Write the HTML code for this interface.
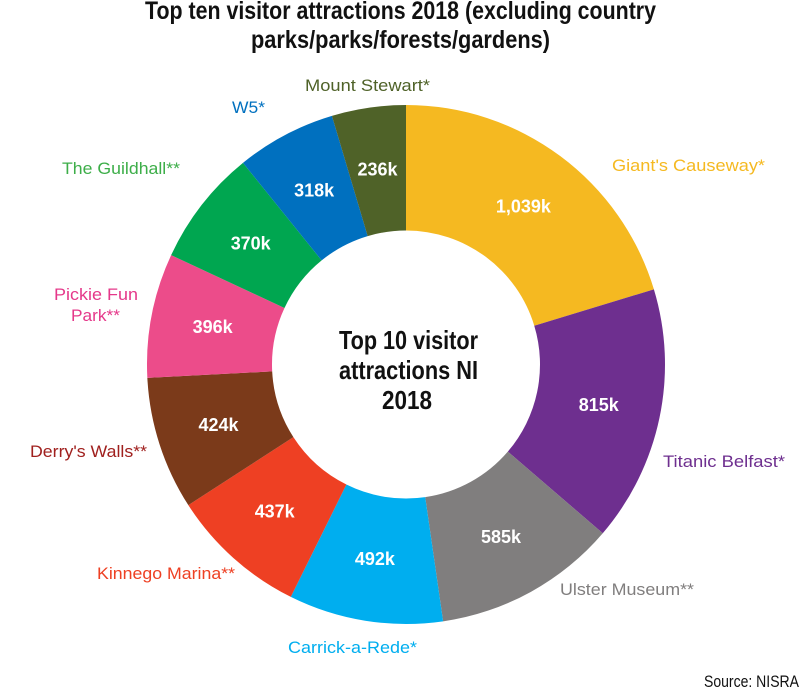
<!DOCTYPE html>
<html><head><meta charset="utf-8"><style>
html,body{margin:0;padding:0;background:#fff;}
body{width:800px;height:692px;overflow:hidden;}
svg text{font-family:"Liberation Sans",sans-serif;}
</style></head><body>
<svg id="s" width="800" height="692" viewBox="0 0 800 692" xmlns="http://www.w3.org/2000/svg">
<g font-weight="bold" fill="#111" font-size="25">
<text x="145" y="19" textLength="511" lengthAdjust="spacingAndGlyphs">Top ten visitor attractions 2018 (excluding country</text>
<text x="251" y="48" textLength="299" lengthAdjust="spacingAndGlyphs">parks/parks/forests/gardens)</text>
</g>
<g id="pie"></g>
<g font-size="26" font-weight="bold" fill="#111">
<text x="339" y="349" textLength="139" lengthAdjust="spacingAndGlyphs">Top 10 visitor</text>
<text x="339" y="379" textLength="139" lengthAdjust="spacingAndGlyphs">attractions NI</text>
<text x="382" y="409" textLength="50" lengthAdjust="spacingAndGlyphs">2018</text>
</g>
<g font-size="17">
<text x="305" y="91" textLength="125" lengthAdjust="spacingAndGlyphs" fill="#4F6228">Mount Stewart*</text>
<text x="232" y="113" textLength="33" lengthAdjust="spacingAndGlyphs" fill="#0070BF">W5*</text>
<text x="62" y="174" textLength="118" lengthAdjust="spacingAndGlyphs" fill="#3DAE49">The Guildhall**</text>
<text x="54" y="300" textLength="84" lengthAdjust="spacingAndGlyphs" fill="#E5388A">Pickie Fun</text>
<text x="71" y="321" textLength="49" lengthAdjust="spacingAndGlyphs" fill="#E5388A">Park**</text>
<text x="30" y="457" textLength="117" lengthAdjust="spacingAndGlyphs" fill="#A0201E">Derry's Walls**</text>
<text x="97" y="579" textLength="138" lengthAdjust="spacingAndGlyphs" fill="#EE4023">Kinnego Marina**</text>
<text x="288" y="653" textLength="129" lengthAdjust="spacingAndGlyphs" fill="#00AEEF">Carrick-a-Rede*</text>
<text x="560" y="595" textLength="134" lengthAdjust="spacingAndGlyphs" fill="#807E7E">Ulster Museum**</text>
<text x="663" y="467" textLength="122" lengthAdjust="spacingAndGlyphs" fill="#6E2F8F">Titanic Belfast*</text>
<text x="612" y="171" textLength="153" lengthAdjust="spacingAndGlyphs" fill="#F5B921">Giant's Causeway*</text>
<text x="704" y="687" textLength="95" lengthAdjust="spacingAndGlyphs" fill="#111" font-size="17">Source: NISRA</text>
</g>
</svg>
<script>
var d=[[1039,"#F5B921","1,039k"],[815,"#6E2F8F","815k"],[585,"#807E7E","585k"],[492,"#00AEEF","492k"],[437,"#EE4023","437k"],[424,"#7B3A1A","424k"],[396,"#EC4C8A","396k"],[370,"#00A650","370k"],[318,"#0070BF","318k"],[236,"#4F6228","236k"]];
var T=0;d.forEach(function(x){T+=x[0]});
var cx=406,cy=364.5,rx=259,ry=259.5,ir=134,lr=197,a=0,h="";
d.forEach(function(x){
 var a0=a/T*2*Math.PI;a+=x[0];var a1=a/T*2*Math.PI;var lg=(a1-a0)>Math.PI?1:0;
 var o0=[cx+rx*Math.sin(a0),cy-ry*Math.cos(a0)],o1=[cx+rx*Math.sin(a1),cy-ry*Math.cos(a1)];
 var i0=[cx+ir*Math.sin(a0),cy-ir*Math.cos(a0)],i1=[cx+ir*Math.sin(a1),cy-ir*Math.cos(a1)];
 h+='<path fill="'+x[1]+'" d="M'+o0+' A'+rx+' '+ry+' 0 '+lg+' 1 '+o1+' L'+i1+' A'+ir+' '+ir+' 0 '+lg+' 0 '+i0+'Z"/>';
 var m=(a0+a1)/2;var lx=cx+lr*Math.sin(m),ly=cy-lr*Math.cos(m);
 var w=x[2].length>4?55:40;
 h+='<text x="'+(lx-w/2).toFixed(1)+'" y="'+(ly+6).toFixed(1)+'" textLength="'+w+'" lengthAdjust="spacingAndGlyphs" font-size="18" font-weight="bold" fill="#fff">'+x[2]+'</text>';
});
document.getElementById("pie").innerHTML=h;
</script>
</body></html>
